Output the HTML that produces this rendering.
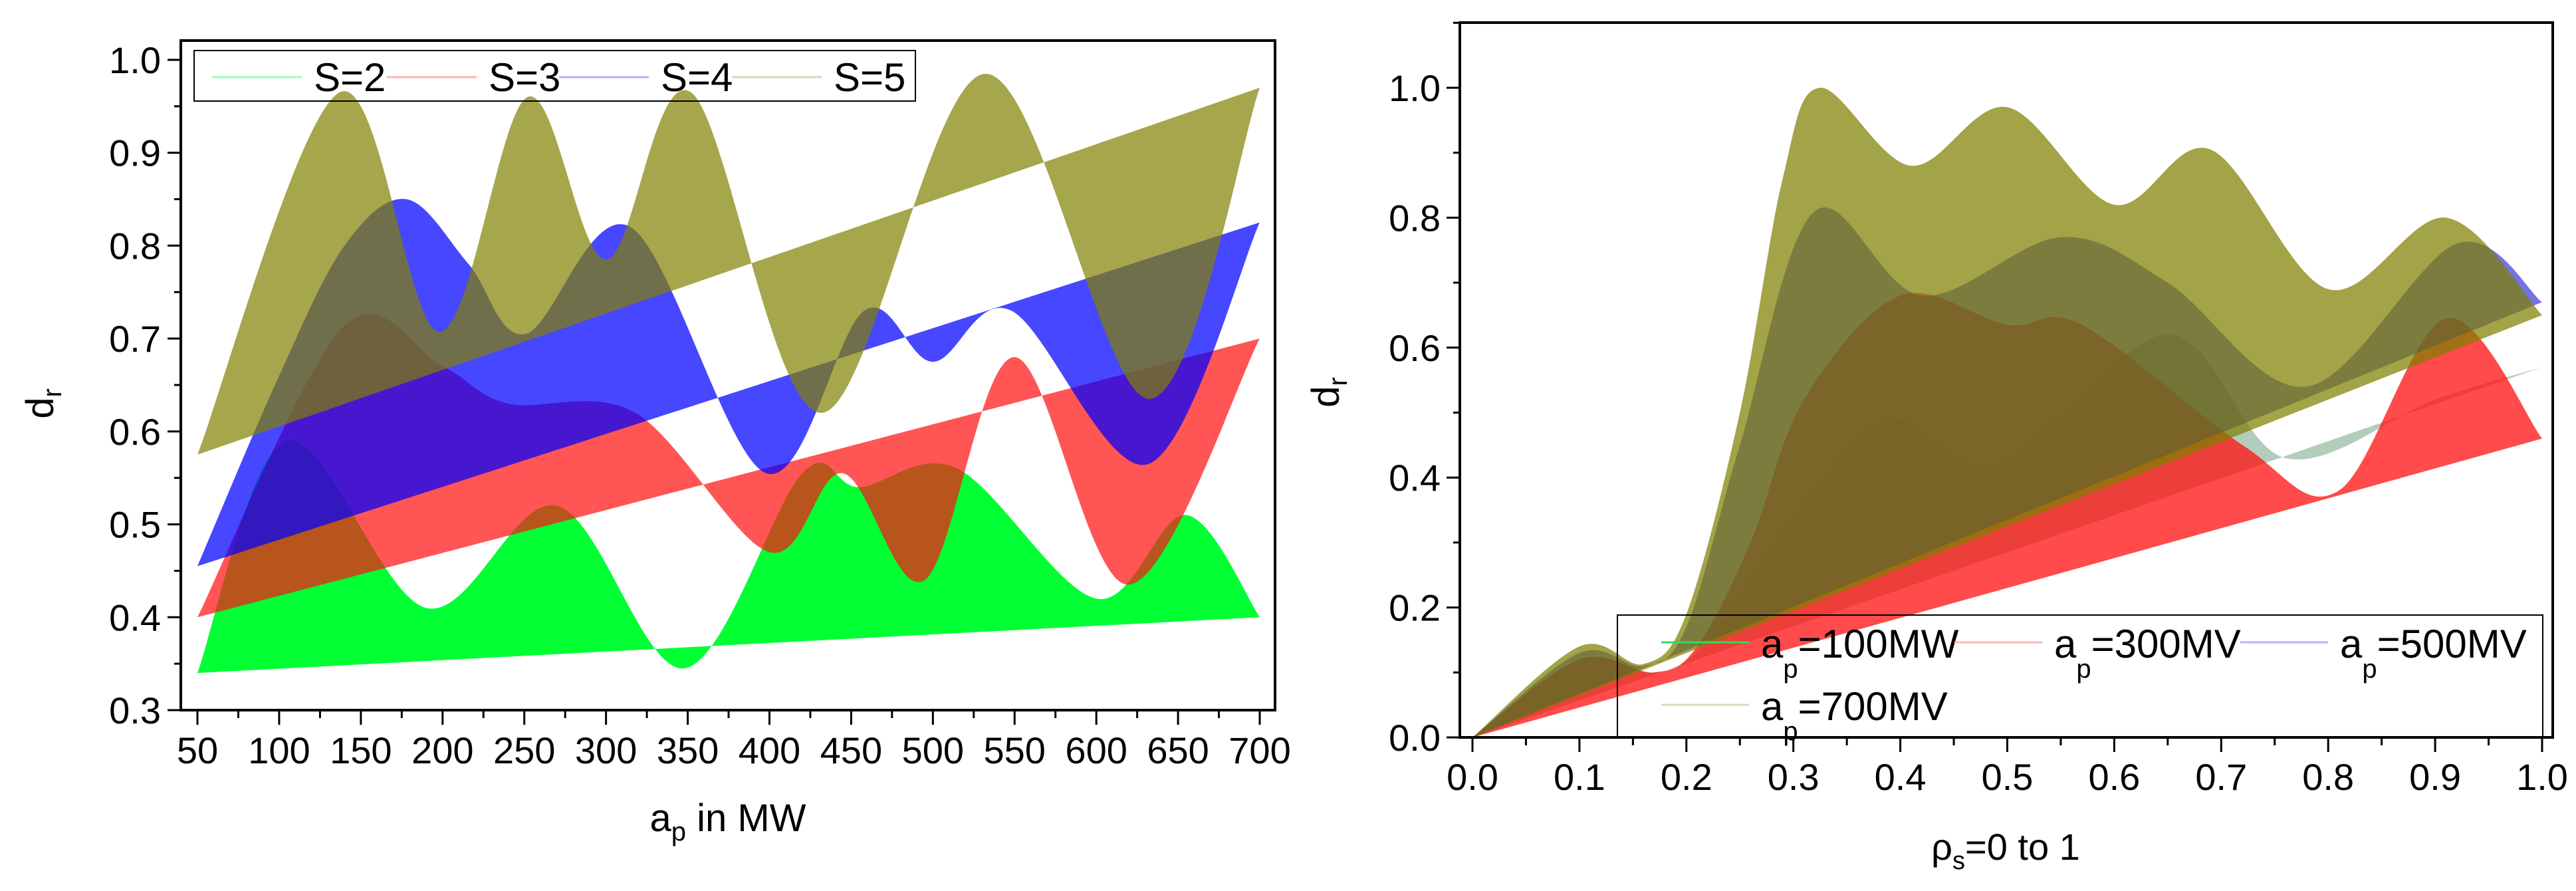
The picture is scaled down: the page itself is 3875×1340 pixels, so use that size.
<!DOCTYPE html>
<html><head><meta charset="utf-8"><style>
html,body{margin:0;padding:0;background:#fff;}
svg{display:block;font-family:"Liberation Sans",Arial,sans-serif;}
</style></head><body>
<svg id="chart" width="3875" height="1340" viewBox="0 0 3875 1340" xmlns="http://www.w3.org/2000/svg">
<g id="left"></g>
<g id="right"></g>
</svg>
<script>
// ---------- Left chart data ----------
const leftSeriesNames = ["S=2","S=3","S=4","S=5"];
const leftLineStart = [0.34, 0.40, 0.455, 0.575];
const leftLineEnd = [0.40, 0.70, 0.825, 0.97];
const leftCurveX2 = [50,105,190,270,348,420,455,515,600,655,700];
const leftCurveY2 = [0.34,0.59,0.41,0.52,0.345,0.555,0.54,0.56,0.42,0.51,0.40];
const leftCurveX3 = [50,139,200,240,318,400,445,495,550,620,700];
const leftCurveY3 = [0.40,0.712,0.67,0.63,0.62,0.47,0.555,0.44,0.68,0.435,0.70];
const leftCurveX4 = [50,100,140,178,216,251,315,398,458,500,548,632,700];
const leftCurveY4 = [0.455,0.66,0.80,0.85,0.78,0.705,0.82,0.555,0.73,0.675,0.73,0.565,0.825];
const leftCurveX5 = [50,137,198,252,300,352,432,532,632,700];
const leftCurveY5 = [0.575,0.965,0.707,0.96,0.785,0.965,0.62,0.985,0.635,0.97];
const leftXTicks = [50,100,150,200,250,300,350,400,450,500,550,600,650,700];
const leftYTicks = [0.3,0.4,0.5,0.6,0.7,0.8,0.9,1.0];

// ---------- Right chart data ----------
const rightSeriesNames = ["100MW","300MV","500MV","700MV"];
const rightLineEnd = [0.57, 0.46, 0.67, 0.65];
const rightCurveX1 = [0,0.1,0.17,0.22,0.31,0.39,0.49,0.65,0.76,0.9,1.0];
const rightCurveY1 = [0,0.12,0.10,0.15,0.36,0.49,0.42,0.62,0.43,0.52,0.57];
const rightCurveX3 = [0,0.1,0.17,0.21,0.26,0.31,0.4,0.5,0.57,0.72,0.81,0.91,1.0];
const rightCurveY3 = [0,0.12,0.10,0.14,0.30,0.52,0.68,0.635,0.635,0.45,0.38,0.645,0.46];
const rightCurveX5 = [0,0.1,0.16,0.2,0.25,0.32,0.42,0.55,0.65,0.78,0.92,1.0];
const rightCurveY5 = [0,0.13,0.11,0.17,0.45,0.81,0.68,0.77,0.70,0.54,0.76,0.67];
const rightCurveX7 = [0,0.1,0.16,0.2,0.25,0.29,0.325,0.41,0.5,0.6,0.69,0.8,0.91,1.0];
const rightCurveY7 = [0,0.14,0.113,0.19,0.5,0.86,1.0,0.88,0.97,0.82,0.905,0.69,0.80,0.65];
const rightXTicks = [0,0.1,0.2,0.3,0.4,0.5,0.6,0.7,0.8,0.9,1.0];
const rightYTicks = [0,0.2,0.4,0.6,0.8,1.0];

const NS="http://www.w3.org/2000/svg";
function mk(tag, parent, attrs){const e=document.createElementNS(NS,tag);for(const k in attrs)e.setAttribute(k,attrs[k]);parent.appendChild(e);return e;}

function spline(pts){
  let d="M"+pts[0][0]+","+pts[0][1];
  for(let i=0;i<pts.length-1;i++){
    const p0=pts[Math.max(0,i-1)],p1=pts[i],p2=pts[i+1],p3=pts[Math.min(pts.length-1,i+2)];
    const c1x=p1[0]+(p2[0]-p0[0])/6,c1y=p1[1]+(p2[1]-p0[1])/6;
    const c2x=p2[0]-(p3[0]-p1[0])/6,c2y=p2[1]-(p3[1]-p1[1])/6;
    d+=" C"+c1x+","+c1y+" "+c2x+","+c2y+" "+p2[0]+","+p2[1];
  }
  return d;
}
function band(g, xs, ys, x0, x1, l0, l1, sx, sy, fill, name){
  const pts=xs.map((x,i)=>[sx(x),sy(ys[i])]);
  let d=spline(pts);
  d+=" L"+sx(x1)+","+sy(l1)+" L"+sx(x0)+","+sy(l0)+" Z";
  const p=mk("path",g,{d:d,fill:fill,"fill-rule":"nonzero"});
  
  
}

// ---------- LEFT ----------
(function(){
  const g=document.getElementById("left");
  const X0=297,X1=1895,Y0=1068,Y1=90;
  const sx=v=>X0+(v-50)/(650)*(X1-X0);
  const sy=v=>Y0-(v-0.3)/(0.7)*(Y0-Y1);
  const fills=["rgba(0,255,51,1)","rgba(255,20,20,0.72)","rgba(0,0,255,0.72)","rgba(128,128,0,0.7)"];
  const cx=[leftCurveX2,leftCurveX3,leftCurveX4,leftCurveX5];
  const cy=[leftCurveY2,leftCurveY3,leftCurveY4,leftCurveY5];
  for(let i=0;i<4;i++) band(g,cx[i],cy[i],50,700,leftLineStart[i],leftLineEnd[i],sx,sy,fills[i],"band-s"+(i+2));
  const fr=mk("rect",g,{x:272,y:61,width:1646,height:1007,fill:"none",stroke:"#000","stroke-width":4});
  
  
  for(let v=50;v<=700;v+=25){
    const maj=(v%50===0);
    mk("line",g,{x1:sx(v),x2:sx(v),y1:1068,y2:1068+(maj?22:12),stroke:"#000","stroke-width":3});
  }
  leftXTicks.forEach(v=>{const t=mk("text",g,{x:sx(v),y:1148,"font-size":56,"text-anchor":"middle"});t.textContent=v;
    });
  for(let v=0.3;v<=1.001;v+=0.05){
    const maj=Math.abs(Math.round(v*10)-v*10)<1e-6;
    mk("line",g,{x1:272,x2:272-(maj?20:10),y1:sy(v),y2:sy(v),stroke:"#000","stroke-width":3});
  }
  leftYTicks.forEach(v=>{const t=mk("text",g,{x:242,y:sy(v)+20,"font-size":56,"text-anchor":"end"});t.textContent=v.toFixed(1);
    });
  const yl=mk("text",g,{x:80,y:607,"font-size":58,"text-anchor":"middle",transform:"rotate(-90 80 607)"});
  yl.innerHTML='d<tspan font-size="40" dy="12">r</tspan>';
  
  const xl=mk("text",g,{x:1095,y:1250,"font-size":58,"text-anchor":"middle"});
  xl.innerHTML='a<tspan font-size="40" dy="14">p</tspan><tspan dy="-14"> in MW</tspan>';
  
  const lg=mk("g",g,{});
  
  mk("rect",lg,{x:292,y:76,width:1085,height:76,fill:"none",stroke:"#000","stroke-width":2});
  const lc=["#99ffb3","#ffb3b3","#b3b3ff","#d9d9b3"];
  const lx=[319,582,841,1101];
  leftSeriesNames.forEach((n,i)=>{
    const e=mk("g",lg,{});
    
    mk("line",e,{x1:lx[i],x2:lx[i]+135,y1:116,y2:116,stroke:lc[i],"stroke-width":3});
    const t=mk("text",e,{x:lx[i]+153,y:137,"font-size":60});t.textContent=n;
  });
})();

// ---------- RIGHT ----------
(function(){
  const g=document.getElementById("right");
  const X0=2215,X1=3824,Y0=1109,Y1=132;
  const sx=v=>X0+v*(X1-X0);
  const sy=v=>Y0-v*(Y0-Y1);
  const fills=["rgba(0,90,30,0.3)","rgba(255,15,15,0.75)","rgba(0,0,200,0.55)","rgba(128,128,0,0.72)"];
  const cx=[rightCurveX1,rightCurveX3,rightCurveX5,rightCurveX7];
  const cy=[rightCurveY1,rightCurveY3,rightCurveY5,rightCurveY7];
  for(let i=0;i<4;i++) band(g,cx[i],cy[i],0,1,0,rightLineEnd[i],sx,sy,fills[i],"band-"+rightSeriesNames[i]);
  const fr=mk("rect",g,{x:2196,y:34,width:1644,height:1075,fill:"none",stroke:"#000","stroke-width":4});
  
  for(let k=0;k<=20;k++){const v=k/20;const maj=k%2===0;
    mk("line",g,{x1:sx(v),x2:sx(v),y1:1109,y2:1109+(maj?22:12),stroke:"#000","stroke-width":3});}
  rightXTicks.forEach(v=>{const t=mk("text",g,{x:sx(v),y:1188,"font-size":56,"text-anchor":"middle"});t.textContent=v.toFixed(1);
    });
  for(let k=0;k<=11;k++){const v=k/10;const maj=k%2===0;
    mk("line",g,{x1:2196,x2:2196-(maj?20:10),y1:sy(v),y2:sy(v),stroke:"#000","stroke-width":3});}
  rightYTicks.forEach(v=>{const t=mk("text",g,{x:2167,y:sy(v)+20,"font-size":56,"text-anchor":"end"});t.textContent=v.toFixed(1);
    });
  const yl=mk("text",g,{x:2014,y:590,"font-size":58,"text-anchor":"middle",transform:"rotate(-90 2014 590)"});
  yl.innerHTML='d<tspan font-size="40" dy="12">r</tspan>';
  
  const xl=mk("text",g,{x:3017,y:1293,"font-size":56,"text-anchor":"middle"});
  xl.innerHTML='ρ<tspan font-size="38" dy="14">s</tspan><tspan dy="-14">=0 to 1</tspan>';
  
  const lg=mk("g",g,{});
  
  mk("rect",lg,{x:2433,y:925,width:1392,height:184,fill:"none",stroke:"#000","stroke-width":2});
  const lc=["#33dd55","#ffb3b3","#b3b3ff","#d9d9b3"];
  const lx=[2499,2940,3370,2499];
  const ly=[966,966,966,1060];
  rightSeriesNames.forEach((n,i)=>{
    const e=mk("g",lg,{});
    
    mk("line",e,{x1:lx[i],x2:lx[i]+132,y1:ly[i],y2:ly[i],stroke:lc[i],"stroke-width":3});
    const t=mk("text",e,{x:lx[i]+150,y:ly[i]+23,"font-size":60});
    t.innerHTML='a<tspan font-size="40" dy="30">p</tspan><tspan dy="-30">='+n+'</tspan>';
  });
})();
</script>
</body></html>
